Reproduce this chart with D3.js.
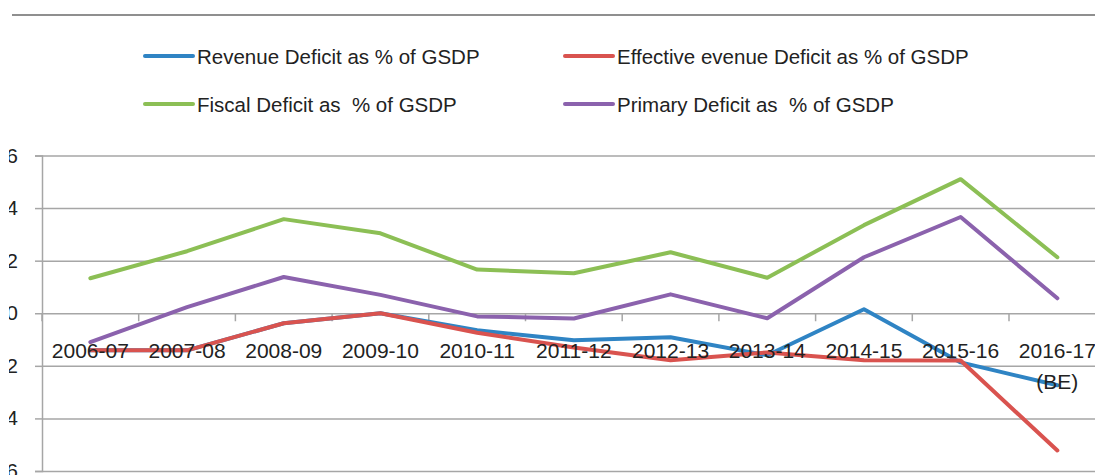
<!DOCTYPE html>
<html>
<head>
<meta charset="utf-8">
<script src="https://cdn.jsdelivr.net/npm/d3@7"></script>
<style>
  html, body { margin: 0; padding: 0; background: #fff; }
  svg { display: block; font-family: "Liberation Sans", Arial, sans-serif; }
</style>
</head>
<body>
<svg id="chart" width="1095" height="475"></svg>
<script>
// ---- data ----
const categories = ["2006-07", "2007-08", "2008-09", "2009-10", "2010-11", "2011-12",
                    "2012-13", "2013-14", "2014-15", "2015-16", "2016-17 (BE)"];
const revenueDeficit   = [-1.41, -1.41, -0.38, 0.00, -0.65, -1.03, -0.91, -1.60, 0.15, -1.87, -2.74];
const effRevenueDeficit = [-1.41, -1.41, -0.38, 0.00, -0.74, -1.30, -1.79, -1.49, -1.79, -1.80, -5.22];
const fiscalDeficit    = [1.33, 2.36, 3.58, 3.04, 1.66, 1.52, 2.32, 1.35, 3.35, 5.10, 2.13];
const primaryDeficit   = [-1.10, 0.23, 1.38, 0.70, -0.12, -0.20, 0.72, -0.19, 2.13, 3.66, 0.57];
const yTicks = [6, 4, 2, 0, -2, -4, -6];
const seriesNames = ["Revenue Deficit as % of GSDP", "Effective evenue Deficit as % of GSDP",
                     "Fiscal Deficit as  % of GSDP", "Primary Deficit as  % of GSDP"];
const seriesColors = ["#2f84c4", "#d9534f", "#8cbf55", "#8b62ad"];

const series = [
  { name: seriesNames[0], values: revenueDeficit,   color: seriesColors[0] },
  { name: seriesNames[1], values: effRevenueDeficit, color: seriesColors[1] },
  { name: seriesNames[2], values: fiscalDeficit,    color: seriesColors[2] },
  { name: seriesNames[3], values: primaryDeficit,   color: seriesColors[3] }
];

// ---- layout ----
const svg = d3.select("#chart");
const plotLeft = 42, band = 96.7;
const x = d3.scaleBand().domain(categories).range([plotLeft, plotLeft + band * categories.length]).padding(0);
const y = d3.scaleLinear().domain([-6, 6]).range([471, 155.5]);
const gridColor = "#a6a6a6";

// top rule
svg.append("line").attr("x1", 12).attr("x2", 1095).attr("y1", 15).attr("y2", 15)
  .attr("stroke", "#8f8f8f").attr("stroke-width", 2.2);

// legend
const legendPos = [[145, 56], [565, 56], [145, 104], [565, 104]];
const lg = svg.append("g");
series.forEach((s, i) => {
  const [lx, ly] = legendPos[i];
  lg.append("line").attr("x1", lx).attr("x2", lx + 48).attr("y1", ly).attr("y2", ly)
    .attr("stroke", s.color).attr("stroke-width", 4).attr("stroke-linecap", "round");
  lg.append("text").attr("x", lx + 52).attr("y", ly + 7.5)
    .attr("font-size", 20.5).attr("fill", "#222")
    .style("white-space", "pre").text(s.name);
});

// gridlines + y ticks
const yAxis = d3.axisLeft(y).tickValues(yTicks).tickSize(7).tickPadding(0).tickFormat("");
const yg = svg.append("g").attr("transform", `translate(${plotLeft},0)`).call(yAxis);
yg.select(".domain").attr("stroke", gridColor).attr("stroke-width", 1.5);
yg.selectAll(".tick line").attr("stroke", gridColor).attr("stroke-width", 1.5);
yg.selectAll(".tick").append("line")
  .attr("x1", 0).attr("x2", 1095).attr("stroke", gridColor).attr("stroke-width", 1.5);

// y labels (left edge cropped like the reference)
svg.append("clipPath").attr("id", "ylabclip").append("rect")
  .attr("x", 9).attr("y", 0).attr("width", 30).attr("height", 475);
svg.append("g").attr("clip-path", "url(#ylabclip)")
  .selectAll("text").data(yTicks).join("text")
  .attr("x", 18).attr("y", d => y(d) + 7)
  .attr("text-anchor", "end").attr("font-size", 21).attr("fill", "#222")
  .text(d => d);

// category axis at 0 with tick marks between categories
const boundaries = categories.map(c => x(c));
svg.append("g").selectAll("line").data(boundaries).join("line")
  .attr("x1", d => d).attr("x2", d => d).attr("y1", y(0)).attr("y2", y(0) + 8)
  .attr("stroke", gridColor).attr("stroke-width", 1.5);

// lines
const line = d3.line()
  .x((d, i) => x(categories[i]) + x.bandwidth() / 2)
  .y(d => y(d));
svg.append("g").selectAll("path").data(series).join("path")
  .attr("d", d => line(d.values))
  .attr("fill", "none").attr("stroke", d => d.color)
  .attr("stroke-width", 4).attr("stroke-linejoin", "round").attr("stroke-linecap", "round");

// category labels
const xl = svg.append("g");
categories.forEach(c => {
  const parts = c.split(" ");
  const t = xl.append("text").attr("text-anchor", "middle")
    .attr("font-size", 21).attr("fill", "#222");
  parts.forEach((p, j) => {
    t.append("tspan").attr("x", x(c) + x.bandwidth() / 2).attr("y", 357.5 + j * 31).text(p);
  });
});
</script>
</body>
</html>
